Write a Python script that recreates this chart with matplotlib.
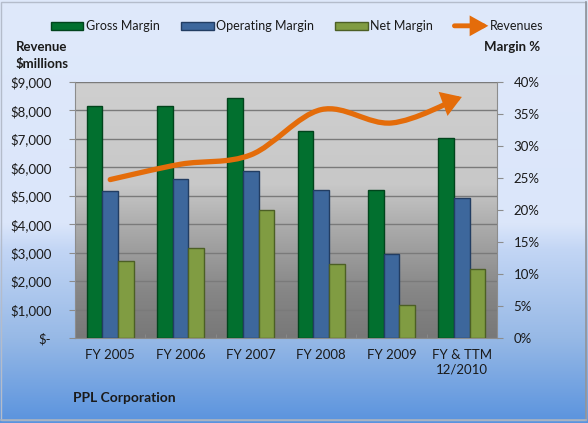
import numpy as np
import matplotlib
matplotlib.use("Agg")
import matplotlib.pyplot as plt
from matplotlib.colors import LinearSegmentedColormap
from matplotlib.patches import Patch, FancyArrowPatch, Rectangle
from matplotlib.path import Path
from matplotlib.legend_handler import HandlerBase
from matplotlib.ticker import FuncFormatter, MultipleLocator

plt.rcParams['font.family'] = ['Lato', 'DejaVu Sans']

# data
years = ["FY 2005", "FY 2006", "FY 2007", "FY 2008", "FY 2009", "FY & TTM\n12/2010"]
gross_margin = [36.2, 36.2, 37.5, 32.4, 23.2, 31.2]
operating_margin = [22.9, 24.8, 26.1, 23.1, 13.2, 21.8]
net_margin = [12.1, 14.0, 20.0, 11.5, 5.2, 10.8]
revenues = [5570, 6110, 6440, 8030, 7560, 8475]

c_gross, e_gross = "#02702f", "#01441c"
c_oper, e_oper = "#3d679c", "#223d62"
c_net, e_net = "#809c42", "#4c5f25"
c_rev = "#e46c0a"
txt = "#1a1a1a"

fig = plt.figure(figsize=(5.88, 4.23), dpi=100)

# figure background gradient
bg = fig.add_axes([0, 0, 1, 1], zorder=-10)
bg_cmap = LinearSegmentedColormap.from_list("bg", [
    (0.0, "#dfe9fb"), (0.53, "#dbe6fa"), (0.59, "#c3d6f5"),
    (0.8, "#97b9e6"), (1.0, "#5a93de")])
bg.imshow(np.linspace(0, 1, 256).reshape(-1, 1), cmap=bg_cmap, aspect="auto",
          extent=[0, 1, 0, 1], origin="upper")
bg.set_xlim(0, 1)
bg.set_ylim(0, 1)
bg.axis("off")
bg.add_patch(Rectangle((0.002, 0.006), 0.994, 0.99, fill=False, ec="#b4bccb", lw=1))
bg.plot([0.996, 0.996], [0.006, 0.996], color="#8f939a", lw=1.2)
bg.plot([0.002, 0.996], [0.006, 0.006], color="#a9b2c0", lw=1.2)

# revenue axis (left) carries the plot background + gridlines
ax = fig.add_axes([0.1276, 0.2009, 0.7177, 0.6052])
ax2 = ax.twinx()
ax.yaxis.tick_left()
ax2.yaxis.tick_right()

x = np.arange(len(years))
ax.set_xlim(-0.5, len(years) - 0.5)
ax.set_ylim(0, 9000)
ax2.set_ylim(0, 40)

pa_cmap = LinearSegmentedColormap.from_list("pa", [
    (0.0, "#cfcfcf"), (0.4, "#c8c8c8"), (0.58, "#a9a9a9"),
    (0.82, "#868686"), (1.0, "#787878")])
ax.imshow(np.linspace(0, 1, 256).reshape(-1, 1), cmap=pa_cmap, aspect="auto",
          extent=[0, 1, 0, 1], origin="upper", transform=ax.transAxes, zorder=0)
ax.patch.set_visible(False)
ax.yaxis.set_major_locator(MultipleLocator(1000))
ax.grid(axis="y", color="#7a7a7a", lw=1)
ax.set_axisbelow(True)

# bars on the margin axis
w = 0.222
ax2.bar(x - w, gross_margin, w, color=c_gross, edgecolor=e_gross, lw=1, zorder=2)
ax2.bar(x, operating_margin, w, color=c_oper, edgecolor=e_oper, lw=1, zorder=2)
ax2.bar(x + w, net_margin, w, color=c_net, edgecolor=e_net, lw=1, zorder=2)

# smoothed revenue line with arrowhead (bezier smoothing like Excel)
pts = np.column_stack([x, revenues]).astype(float)
ext = np.vstack([pts[0], pts, pts[-1]])
verts = [tuple(pts[0])]
codes = [Path.MOVETO]
for i in range(len(pts) - 1):
    p0, p1, p2, p3 = ext[i], ext[i + 1], ext[i + 2], ext[i + 3]
    c1 = p1 + (p2 - p0) / 6
    c2 = p2 - (p3 - p1) / 6
    verts += [tuple(c1), tuple(c2), tuple(p2)]
    codes += [Path.CURVE4] * 3
arrow = FancyArrowPatch(path=Path(verts, codes), transform=ax.transData,
                        arrowstyle="-|>,head_length=0.36,head_width=0.23",
                        mutation_scale=25, lw=3.8, color=c_rev,
                        capstyle="round", joinstyle="miter", zorder=5)
ax2.add_patch(arrow)

# axes styling
for a in (ax, ax2):
    for s in a.spines.values():
        s.set_visible(False)
ax.spines["left"].set_visible(True)
ax.spines["left"].set_color("#8c8c8c")
ax.spines["bottom"].set_visible(True)
ax.spines["bottom"].set_color("#8c8c8c")
ax2.spines["right"].set_visible(True)
ax2.spines["right"].set_color("#8c8c8c")

ax.yaxis.set_major_formatter(FuncFormatter(lambda v, p: "$-" if v == 0 else "${:,.0f}".format(v)))
ax2.yaxis.set_major_locator(MultipleLocator(5))
ax2.yaxis.set_major_formatter(FuncFormatter(lambda v, p: "{:.0f}%".format(v)))
ax.tick_params(axis="y", length=4, color="#8c8c8c", labelsize=9.5, labelcolor=txt, pad=13)
ax2.tick_params(axis="y", length=4, color="#8c8c8c", labelsize=9.5, labelcolor=txt, pad=8)
ax.set_xticks(x)
ax.set_xticklabels(years)
ax.set_xticks(np.arange(0.5, len(years) - 1, 1), minor=True)
ax.tick_params(axis="x", which="major", length=0, labelsize=9.5, labelcolor=txt, pad=8)
ax.tick_params(axis="x", which="minor", length=3, direction="in", color="#8c8c8c")


# legend, arrow handle for the revenue line
class ArrowHandler(HandlerBase):
    def create_artists(self, legend, orig_handle, xdescent, ydescent, width, height,
                       fontsize, trans):
        y = height / 2 - ydescent
        a = FancyArrowPatch((-xdescent, y), (width - xdescent + 1, y),
                            arrowstyle="-|>,head_length=0.45,head_width=0.25",
                            mutation_scale=18, lw=3.5, color=c_rev,
                            shrinkA=0, shrinkB=0, joinstyle="miter", transform=trans)
        return [a]


rev_handle = Patch()
handles = [Patch(fc=c_gross, ec=e_gross), Patch(fc=c_oper, ec=e_oper),
           Patch(fc=c_net, ec=e_net), rev_handle]
labels = ["Gross Margin", "Operating Margin", "Net Margin", "Revenues"]
fig.legend(handles, labels, handler_map={rev_handle: ArrowHandler()},
           loc="center", bbox_to_anchor=(0.505, 0.938), ncol=4, frameon=False,
           fontsize=9, handlelength=2.6, handleheight=0.6, handletextpad=0.2,
           columnspacing=1.7, labelcolor=txt)

fig.text(0.027, 0.888, "Revenue", fontsize=9.5, fontweight="bold", color=txt, va="center")
fig.text(0.027, 0.848, "$millions", fontsize=9.5, fontweight="bold", color=txt, va="center")
fig.text(0.919, 0.888, "Margin %", fontsize=9.5, fontweight="bold", color=txt,
         va="center", ha="right")
fig.text(0.124, 0.059, "PPL Corporation", fontsize=10, fontweight="bold", color=txt,
         va="center")

fig.savefig("out.png", dpi=100)
